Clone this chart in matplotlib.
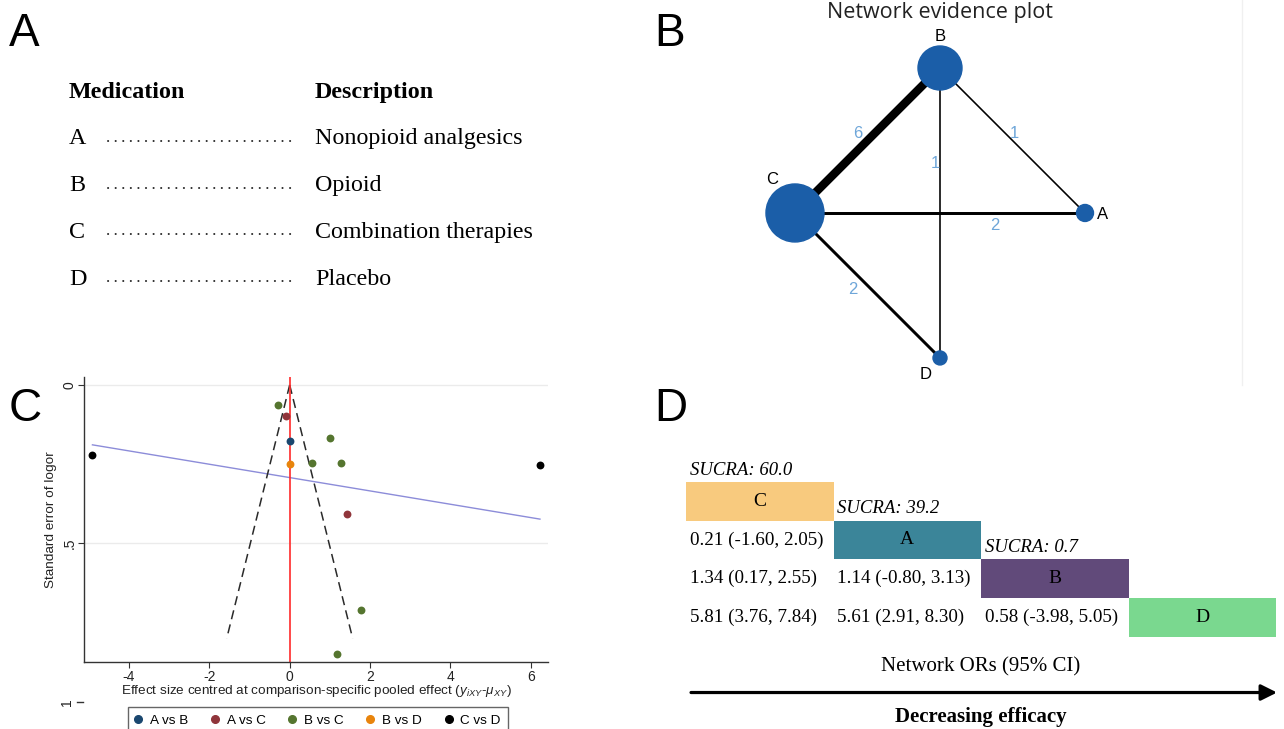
import numpy as np
import matplotlib.pyplot as plt
from matplotlib.patches import Rectangle, Circle
from matplotlib.lines import Line2D

plt.rcParams['axes.unicode_minus'] = False
plt.rcParams['mathtext.fontset'] = 'custom'
plt.rcParams['mathtext.rm'] = 'Liberation Sans'
plt.rcParams['mathtext.it'] = 'Liberation Sans:italic'

SERIF = 'Liberation Serif'
SANS = 'Liberation Sans'

# ---- panel A: treatment codes
med_codes = ['A', 'B', 'C', 'D']
med_desc = ['Nonopioid analgesics', 'Opioid', 'Combination therapies', 'Placebo']

# ---- panel B: network
nodes = ['A', 'B', 'C', 'D']
node_angle = [0, 90, 180, 270]          # circular layout
node_weight = [72, 484, 841, 49]        # relative sample size (from node areas)
edge_from = ['C', 'B', 'B', 'C', 'C']
edge_to = ['B', 'A', 'D', 'A', 'D']
edge_studies = [6, 1, 1, 2, 2]

# ---- panel C: comparison-adjusted funnel plot
comparisons = ['A vs B', 'A vs C', 'B vs C', 'B vs D', 'C vs D']
study_comp = ['A vs B', 'A vs C', 'A vs C', 'B vs C', 'B vs C', 'B vs C',
              'B vs C', 'B vs C', 'B vs C', 'B vs D', 'C vs D', 'C vs D']
study_effect = [0.0, -0.085, 1.427, -0.29, 0.996, 0.548,
                1.278, 1.776, 1.178, 0.0, -4.91, 6.23]
study_se = [0.176, 0.097, 0.407, 0.063, 0.166, 0.245,
            0.247, 0.709, 0.848, 0.248, 0.221, 0.251]
funnel_se_max = 0.80

# ---- panel D: ranking / league table
rank_order = ['C', 'A', 'B', 'D']
sucra = [60.0, 39.2, 0.7]
or_mean = [[0.21], [1.34, 1.14], [5.81, 5.61, 0.58]]
or_low = [[-1.60], [0.17, -0.80], [3.76, 2.91, -3.98]]
or_high = [[2.05], [2.55, 3.13], [7.84, 8.30, 5.05]]

W, H = 1284, 729
fig = plt.figure(figsize=(W / 100, H / 100), dpi=100)

# overlay in pixel coordinates for the text panels
ov = fig.add_axes([0, 0, 1, 1])
ov.set_xlim(0, W)
ov.set_ylim(H, 0)
ov.axis('off')

for letter, x, y in [('A', 9, 34), ('B', 654, 34), ('C', 9, 409), ('D', 654, 409)]:
    ov.text(x, y, letter, fontsize=33, family=SANS, ha='left', va='center')

# panel A
row_y0, row_step = 92, 46.75
ov.text(69, row_y0, 'Medication', family=SERIF, fontsize=17.3, weight='bold', va='center')
ov.text(315, row_y0, 'Description', family=SERIF, fontsize=17.3, weight='bold', va='center')
for i, (code, desc) in enumerate(zip(med_codes, med_desc), start=1):
    y = row_y0 + row_step * i
    ov.text(69, y, code, family=SERIF, fontsize=17.3, va='center')
    ov.text(315, y, desc, family=SERIF, fontsize=17.3, va='center')
    ov.plot([108, 292], [y + 2, y + 2], color='#222222', lw=1.4,
            ls=(0, (0.1, 3.8)), dash_capstyle='round')

ov.plot([1242, 1242], [0, 385], color='#f0f0f0', lw=1)

# panel B
ax_b = fig.add_axes([700 / W, 1 - 390 / H, 480 / W, 390 / H])
ax_b.set_xlim(-1.655, 1.655)
ax_b.set_ylim(-1.221, 1.469)
ax_b.axis('off')
pos = {n: (np.cos(np.radians(a)), np.sin(np.radians(a))) for n, a in zip(nodes, node_angle)}
wmax = max(node_weight)
radius = {n: 0.2 * np.sqrt(w / wmax) for n, w in zip(nodes, node_weight)}

edge_lab = {('C', 'B'): (0.5, -0.07, 0.05), ('B', 'A'): (0.5, 0.01, 0.05),
            ('B', 'D'): (0.33, -0.034, 0.0), ('C', 'A'): (0.69, 0.0, -0.085),
            ('C', 'D'): (0.5, -0.1, -0.03)}
for a, b, n in zip(edge_from, edge_to, edge_studies):
    (x1, y1), (x2, y2) = pos[a], pos[b]
    ax_b.plot([x1, x2], [y1, y2], color='black', lw=0.2 + 0.97 * n, solid_capstyle='butt', zorder=1)
    t, dx, dy = edge_lab[(a, b)]
    ax_b.text(x1 + t * (x2 - x1) + dx, y1 + t * (y2 - y1) + dy, str(n), color='#6ea6d9',
              fontsize=12, family=SANS, ha='center', va='center', zorder=2)

node_lab = {'A': (0.12, -0.01), 'B': (0.0, 0.214), 'C': (-0.159, 0.228), 'D': (-0.097, -0.117)}
for n in nodes:
    ax_b.add_patch(Circle(pos[n], radius[n], color='#1b5ea8', zorder=3))
    dx, dy = node_lab[n]
    ax_b.text(pos[n][0] + dx, pos[n][1] + dy, n, fontsize=12, family=SANS,
              ha='center', va='center', zorder=4)
ax_b.text(0, 1.38, 'Network evidence plot', fontsize=15.5, family='Open Sans',
          ha='center', va='center', color='#222222')

# panel C
ax_c = fig.add_axes([84 / W, 1 - 662 / H, 464 / W, 285.3 / H])
ax_c.set_xlim(-5.12, 6.43)
ax_c.set_ylim(0.874, -0.026)
for s in ['top', 'right']:
    ax_c.spines[s].set_visible(False)
for s in ['left', 'bottom']:
    ax_c.spines[s].set_color('#333333')
    ax_c.spines[s].set_linewidth(1.0)
ax_c.set_xticks([-4, -2, 0, 2, 4, 6])
ax_c.set_yticks([0, 0.5])
ax_c.set_yticklabels(['0', '.5'], rotation=90, va='center')
ax_c.tick_params(labelsize=10, length=4, colors='#333333', labelcolor='#222222', pad=1.5)
for lab in ax_c.get_xticklabels() + ax_c.get_yticklabels():
    lab.set_family(SANS)
ax_c.grid(axis='y', color='#ebebeb', lw=1)
ax_c.set_axisbelow(True)

# out-of-range "1" label drawn by Stata below the plot region
ytr = ax_c.get_yaxis_transform()
ax_c.text(-0.036, 1.0, '1', rotation=90, transform=ytr, ha='center', va='center',
          fontsize=10, family=SANS, color='#222222', clip_on=False)
ax_c.plot([-0.0155, -0.003], [1.0, 1.0], transform=ytr, color='#333333', lw=1, clip_on=False)

ex = np.array(study_effect)
sev = np.array(study_se)
slope, icpt = np.polyfit(ex, sev, 1)
xs = np.array([ex.min(), ex.max()])
ax_c.plot(xs, icpt + slope * xs, color='#8c8cd9', lw=1.0, zorder=2)

se_line = np.array([0, funnel_se_max])
ax_c.plot(-1.96 * se_line, se_line, color='#2a2a2a', lw=1.1, dashes=(6, 3.5), zorder=2)
ax_c.plot(1.96 * se_line, se_line, color='#2a2a2a', lw=1.1, dashes=(6, 3.5), zorder=2)
ax_c.axvline(0, color='#ff2a2a', lw=1.2, zorder=2)

comp_colors = ['#1a476f', '#90353b', '#55752f', '#e8840c', '#000000']
handles = []
for comp, col in zip(comparisons, comp_colors):
    m = np.array([c == comp for c in study_comp])
    ax_c.scatter(ex[m], sev[m], s=32, color=col, zorder=3, linewidths=0)
    handles.append(Line2D([], [], marker='o', ls='', color=col, markersize=5.5))

ax_c.text(-0.072, 0.5, 'Standard error of logor', rotation=90, transform=ax_c.transAxes,
          ha='center', va='center', fontsize=9.7, family=SANS, color='#222222')
ax_c.text(0.5, -0.1006, r'Effect size centred at comparison-specific pooled effect ($y_{iXY}$-$\mu_{XY}$)',
          transform=ax_c.transAxes, ha='center', va='center', fontsize=9.7, family=SANS, color='#222222')

fig.legend(handles, comparisons, loc='upper left', bbox_to_anchor=(127.7 / W, 1 - 706.7 / H),
           ncol=5, frameon=True, fancybox=False, edgecolor='#666666', framealpha=1,
           prop={'family': SANS, 'size': 9.7}, handlelength=0.5, handletextpad=0.6,
           columnspacing=1.75, borderpad=0.55, borderaxespad=0)

# panel D
ax_d = fig.add_axes([686 / W, 1 - 637 / H, 590 / W, 155.3 / H])
ax_d.set_xlim(0, 4)
ax_d.set_ylim(4, 0)
ax_d.axis('off')
box_colors = {'C': '#f8ca7e', 'A': '#3b8599', 'B': '#614a7a', 'D': '#7ad88f'}
for i, name in enumerate(rank_order):
    ax_d.add_patch(Rectangle((i, i), 1, 1, color=box_colors[name], lw=0))
    ax_d.text(i + 0.5, i + 0.5, name, family=SERIF, fontsize=14, ha='center', va='center')
for i, val in enumerate(sucra):
    ax_d.text(i + 0.027, i - 0.3, f'SUCRA: {val:.1f}', family=SERIF, style='italic',
              fontsize=13.5, ha='left', va='center')
for r in range(1, 4):
    for c in range(r):
        txt = f'{or_mean[r-1][c]:.2f} ({or_low[r-1][c]:.2f}, {or_high[r-1][c]:.2f})'
        ax_d.text(c + 0.027, r + 0.5, txt, family=SERIF, fontsize=13.7, ha='left', va='center')

ax_d.text(2.0, 4.77, 'Network ORs (95% CI)', family=SERIF, fontsize=15, ha='center', va='center')
ax_d.annotate('', xy=(4.007, 5.43), xytext=(0.034, 5.43), annotation_clip=False,
              arrowprops=dict(arrowstyle='-|>,head_length=0.6,head_width=0.3', lw=2.3,
                              color='black', mutation_scale=16, shrinkA=0, shrinkB=0))
ax_d.text(2.0, 6.06, 'Decreasing efficacy', family=SERIF, fontsize=15, weight='bold',
          ha='center', va='center')

fig.savefig('out.png', dpi=100)
